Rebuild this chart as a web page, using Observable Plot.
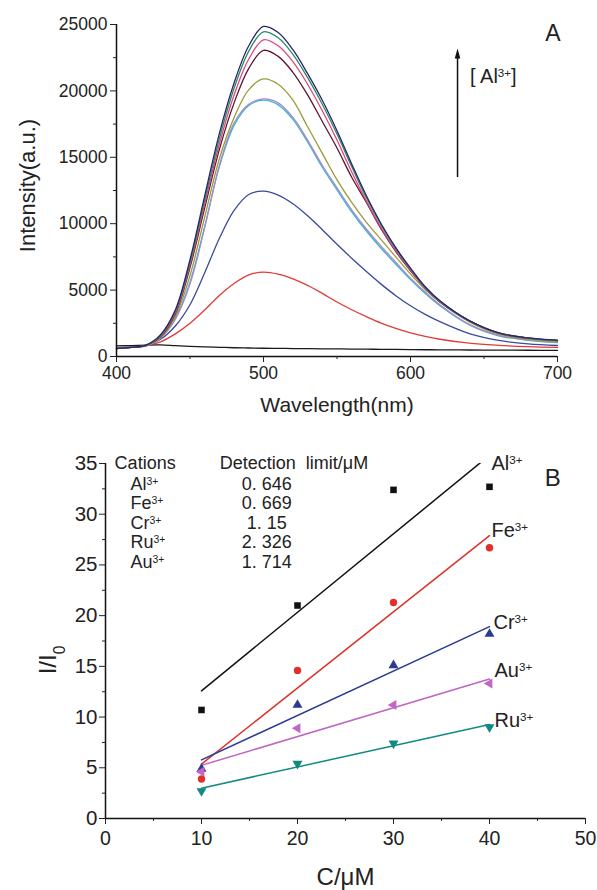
<!DOCTYPE html>
<html><head><meta charset="utf-8">
<script src="https://cdn.jsdelivr.net/npm/d3@7"></script>
<script src="https://cdn.jsdelivr.net/npm/@observablehq/plot@0.6"></script>
<style>
body{margin:0;background:#fff;font-family:"Liberation Sans",Arial,sans-serif;}
#chart{width:597px;}
#chart svg{display:block;}
</style></head><body><div id="chart"></div>
<script>
// ---------- Panel A: emission spectra ----------
const wavelengths = [400,410,420,430,440,450,460,470,480,490,500,510,520,530,540,550,560,570,580,590,600,610,620,640,660,680,700];
const specBlank    = [800,820,860,880,820,760,720,690,660,640,620,610,600,590,580,570,560,550,540,530,520,510,500,490,480,470,460];
const specRed      = [620,700,800,1100,1700,2500,3500,4600,5500,6150,6350,6200,5850,5350,4750,4100,3520,3000,2520,2120,1780,1510,1300,1000,840,740,680];
const specBlue     = [620,700,800,1300,2300,3900,6300,8900,11000,12200,12450,12150,11500,10600,9550,8450,7400,6400,5450,4580,3820,3170,2620,1720,1210,950,830];
const specCyan     = [600,680,810,1400,2850,5600,9800,14300,17400,18900,19300,18950,17850,16150,14250,12550,10900,9450,8150,6950,5800,4750,3820,2380,1560,1220,1050];
const specLavender = [600,680,800,1400,2800,5450,9700,14400,17600,19000,19400,19100,18000,16300,14400,12700,11050,9600,8300,7100,5900,4850,3900,2420,1600,1250,1080];
const specOlive    = [600,680,820,1450,3000,6100,10500,14900,18000,20100,20900,20500,19300,17300,15300,13300,11600,10100,8800,7500,6200,5050,4100,2600,1680,1300,1120];
const specMaroon   = [600,680,830,1500,3200,6700,11200,15600,19100,21700,23050,22600,21400,19700,17700,15700,13500,11600,9600,7900,6450,5150,4100,2680,1760,1380,1200];
const specPink     = [600,680,840,1550,3300,6900,11500,16000,19700,22400,23850,23400,22200,20500,18500,16300,13900,11700,9700,7950,6500,5150,4120,2680,1760,1380,1200];
const specGreen    = [600,680,850,1600,3400,7100,11800,16400,20200,23000,24450,24000,22750,21000,19000,16750,14300,11950,9900,8100,6600,5200,4170,2690,1770,1390,1220];
const specNavy     = [600,680,850,1650,3500,7300,12100,16800,20600,23400,24850,24400,23100,21300,19300,17000,14500,12100,10000,8200,6650,5250,4200,2700,1780,1400,1230];
const xTicksA = [400,500,600,700];
const xMinorA = [450,550,650];
const yTicksA = [0,5000,10000,15000,20000,25000];
const yMinorA = [2500,7500,12500,17500,22500];

// ---------- Panel B: I/I0 vs concentration ----------
const concentrations = [10,20,30,40];
const ratioAl = [10.7,21.0,32.4,32.7];
const ratioFe = [3.9,14.6,21.3,26.7];
const ratioCr = [4.9,11.2,15.1,18.2];
const ratioAu = [4.6,8.9,11.2,13.3];
const ratioRu = [2.7,5.4,7.4,9.0];
const tableCations = ["Al","Fe","Cr","Ru","Au"];
const tableLimits = ["0. 646","0. 669","1. 15","2. 326","1. 714"];
const xTicksB = [0,10,20,30,40,50];
const xMinorB = [5,15,25,35,45];
const yTicksB = [0,5,10,15,20,25,30,35];
const yMinorB = [2.5,7.5,12.5,17.5,22.5,27.5,32.5];

// ---------- helpers ----------
const FONT = "Liberation Sans, Arial, sans-serif";
const INK = "#222";
function tri(dir){
  return {draw(ctx, size){
    const s3 = Math.sqrt(3);
    const y = -Math.sqrt(size / (s3 * 3));
    if (dir === "down"){ ctx.moveTo(0,-y*2); ctx.lineTo(-s3*y, y); ctx.lineTo(s3*y, y); }
    else { ctx.moveTo(y*2,0); ctx.lineTo(-y,-s3*y); ctx.lineTo(-y, s3*y); }
    ctx.closePath();
  }};
}
const arrowHead = {draw(ctx){ ctx.moveTo(0,-6); ctx.lineTo(-2.8,4); ctx.lineTo(2.8,4); ctx.closePath(); }};
function richText(svg){
  svg.querySelectorAll("text").forEach(el => {
    const s = el.textContent;
    if (!/[\^_]\{/.test(s)) return;
    el.textContent = "";
    const re = /([\^_])\{([^}]*)\}/g;
    let last = 0, m;
    const add = (txt, kind) => {
      const t = document.createElementNS("http://www.w3.org/2000/svg","tspan");
      t.textContent = txt;
      if (kind === "^"){ t.setAttribute("baseline-shift","super"); t.style.fontSize = "58%"; }
      if (kind === "_"){ t.setAttribute("baseline-shift","sub"); t.style.fontSize = "65%"; }
      el.appendChild(t);
    };
    while ((m = re.exec(s))){ if (m.index > last) add(s.slice(last, m.index)); add(m[2], m[1]); last = re.lastIndex; }
    if (last < s.length) add(s.slice(last));
  });
}

// ---------- Panel A ----------
const spectra = [
  {values: specBlank, color: "#1a1a1a"},
  {values: specRed, color: "#e23a36"},
  {values: specBlue, color: "#3a4a9c"},
  {values: specCyan, color: "#3ab4d2"},
  {values: specLavender, color: "#a58cc8"},
  {values: specOlive, color: "#9a9a3a"},
  {values: specMaroon, color: "#5e1530"},
  {values: specPink, color: "#e0457e"},
  {values: specGreen, color: "#2a8a64"},
  {values: specNavy, color: "#26266e"}
];
const plotA = Plot.plot({
  width: 597, height: 420,
  marginLeft: 116, marginRight: 40, marginTop: 24, marginBottom: 64,
  x: {domain: [400,700]},
  y: {domain: [0,25000]},
  style: {fontFamily: FONT, fontSize: "17px", color: INK, background: "#fff"},
  marks: [
    ...spectra.map(s => Plot.line(wavelengths, {x: d => d, y: (d,i) => s.values[i], stroke: s.color, strokeWidth: 1.3, curve: "catmull-rom"})),
    Plot.ruleY([0], {stroke: "#111", strokeWidth: 1.5}),
    Plot.ruleX([400], {stroke: "#111", strokeWidth: 1.5}),
    Plot.axisX({ticks: xTicksA, tickSize: 6, tickPadding: 4, tickFormat: d => String(d), label: null, fontSize: 17.5}),
    Plot.axisX({ticks: xMinorA, tickSize: 3, tickFormat: () => "", label: null}),
    Plot.axisY({ticks: yTicksA, tickSize: 6, tickPadding: 3, tickFormat: d => String(d), label: null, fontSize: 17.5}),
    Plot.axisY({ticks: yMinorA, tickSize: 3, tickFormat: () => "", label: null}),
    Plot.text(["Intensity(a.u.)"], {frameAnchor: "left", dx: -89, dy: -5, rotate: -90, textAnchor: "middle", lineAnchor: "middle", fontSize: 22, fill: INK}),
    Plot.text(["Wavelength(nm)"], {frameAnchor: "bottom", dy: 49, lineAnchor: "middle", fontSize: 21, fill: INK}),
    Plot.text(["A"], {frameAnchor: "top-right", dx: 3, dy: 9, lineAnchor: "middle", fontSize: 23, fill: INK}),
    Plot.ruleX([632], {y1: 13480, y2: 22600, stroke: "#111", strokeWidth: 1.5}),
    Plot.dot([632], {x: d => d, y: 22750, symbol: arrowHead, fill: "#111", stroke: "none"}),
    Plot.text(["[ Al^{3+}]"], {x: 640.5, y: 21100, textAnchor: "start", fontSize: 20, fill: INK})
  ]
});
richText(plotA);

// ---------- Panel B ----------
const cationSeries = [
  {name: "Al", values: ratioAl, color: "#111111", symbol: "square", dy: -23, dx: 2},
  {name: "Fe", values: ratioFe, color: "#e0302c", symbol: "circle", dy: -17, dx: 2},
  {name: "Cr", values: ratioCr, color: "#2b3a92", symbol: "triangle", dy: -11, dx: 4},
  {name: "Au", values: ratioAu, color: "#c066c4", symbol: tri("left"), dy: -13, dx: 5},
  {name: "Ru", values: ratioRu, color: "#128a82", symbol: tri("down"), dy: -7, dx: 5}
];
const plotB = Plot.plot({
  width: 597, height: 470,
  marginLeft: 105, marginRight: 12, marginTop: 43, marginBottom: 72,
  x: {domain: [0,50]},
  y: {domain: [0,35]},
  style: {fontFamily: FONT, fontSize: "19px", color: INK, background: "#fff"},
  marks: [
    ...cationSeries.map(s => Plot.linearRegressionY(concentrations, {x: d => d, y: (d,i) => s.values[i], stroke: s.color, strokeWidth: 1.5, ci: 0, clip: true})),
    ...cationSeries.map(s => Plot.dot(concentrations, {x: d => d, y: (d,i) => s.values[i], symbol: s.symbol, fill: s.color, stroke: "none", r: 3.7})),
    ...cationSeries.map(s => Plot.text([40], {x: d => d, y: s.values[3], text: () => s.name + "^{3+}", dx: s.dx, dy: s.dy, textAnchor: "start", fontSize: 20, fill: INK})),
    Plot.ruleY([0], {stroke: "#111", strokeWidth: 1.5}),
    Plot.ruleX([0], {stroke: "#111", strokeWidth: 1.5}),
    Plot.axisX({ticks: xTicksB, tickSize: 6, tickPadding: 7, tickFormat: d => String(d), label: null, fontSize: 19.5}),
    Plot.axisX({ticks: xMinorB, tickSize: 3, tickFormat: () => "", label: null}),
    Plot.axisY({ticks: yTicksB, tickSize: 6, tickPadding: 2, tickFormat: d => String(d), label: null, fontSize: 20.5}),
    Plot.axisY({ticks: yMinorB, tickSize: 3, tickFormat: () => "", label: null}),
    Plot.text(["I/I_{0}"], {frameAnchor: "left", dx: -57, dy: 19, rotate: -90, textAnchor: "middle", lineAnchor: "middle", fontSize: 24, fill: INK}),
    Plot.text(["C/μM"], {frameAnchor: "bottom", dy: 59, lineAnchor: "middle", fontSize: 24, fill: INK}),
    Plot.text(["B"], {x: 46.6, y: 33.5, fontSize: 24, fill: INK}),
    Plot.text(["Cations"], {x: 0.95, y: 35, textAnchor: "start", fontSize: 18, fill: INK}),
    Plot.text(["Detection  limit/μM"], {x: 11.9, y: 35, textAnchor: "start", fontSize: 18, fill: INK}),
    Plot.text(tableCations, {x: 2.6, y: (d,i) => 33.0 - i*1.93, text: d => d + "^{3+}", textAnchor: "start", fontSize: 18, fill: INK}),
    Plot.text(tableLimits, {x: 16.8, y: (d,i) => 33.0 - i*1.93, text: d => d, textAnchor: "middle", fontSize: 18, fill: INK})
  ]
});
richText(plotB);

const chart = document.getElementById("chart");
chart.appendChild(plotA);
chart.appendChild(plotB);
</script>
</body></html>
